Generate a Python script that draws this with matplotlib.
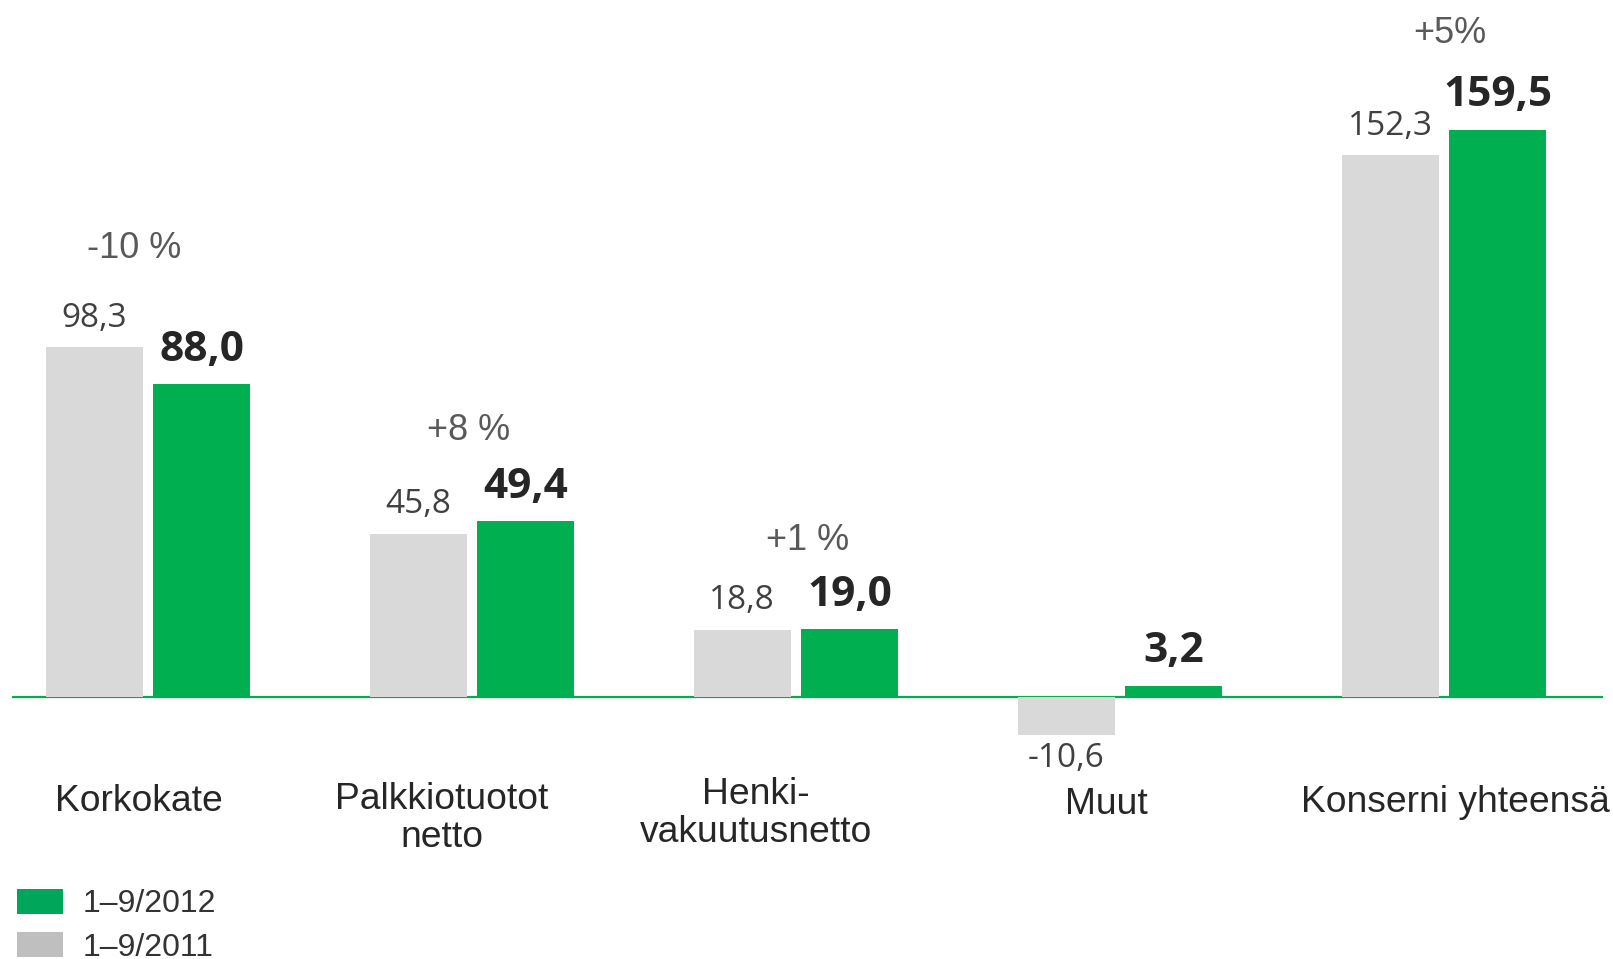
import matplotlib
matplotlib.use("Agg")
import matplotlib.pyplot as plt
from matplotlib.patches import Patch

# ---- data ----
categories = ["Korkokate", "Palkkiotuotot\nnetto", "Henki-\nvakuutusnetto", "Muut", "Konserni yhteensä"]
values_2011 = [98.3, 45.8, 18.8, -10.6, 152.3]
values_2012 = [88.0, 49.4, 19.0, 3.2, 159.5]
changes = ["-10 %", "+8 %", "+1 %", "", "+5%"]
series_names = ["1–9/2012", "1–9/2011"]

# ---- layout (not data) ----
pct_y = [126.2, 75.0, 44.1, None, 186.6]
pct_dx = [-0.043, -0.01, 0.037, 0.0, 0.019]
cat_dx = [-0.028, -0.093, -0.123, -0.043, 0.034]
cat_y = [-29.3, -34.1, -32.7, -30.2, -29.6]

GREEN = "#00B050"
GRAY = "#D9D9D9"
LEG_GREEN = "#00A65A"
LEG_GRAY = "#BFBFBF"

W, H = 1613, 959
fig = plt.figure(figsize=(W / 100, H / 100), dpi=100)
ax = fig.add_axes([12 / W, 0, 1591 / W, 1])
ax.set_xlim(-0.4198, 4.4907)
ax.set_ylim(-73.68, 196.0)
ax.axis("off")

x = list(range(len(categories)))
bw = 0.30
off = 0.166
xg = [i - off for i in x]
xn = [i + off for i in x]

ax.axhline(0, color=GREEN, lw=1.6, zorder=1)
ax.bar(xg, values_2011, width=bw, color=GRAY, zorder=2)
ax.bar(xn, values_2012, width=bw, color=GREEN, zorder=2)

def fmt(v):
    return f"{v:.1f}".replace(".", ",")

for xi, v in zip(xg, values_2011):
    dy = 21.0 if v >= 0 else -17.0
    ax.annotate(fmt(v), (xi, v), xytext=(0, dy), textcoords="offset points",
                ha="center", va="center", fontsize=24, family="Open Sans",
                color="#404040")
for xi, v in zip(xn, values_2012):
    ax.annotate(fmt(v), (xi, v), xytext=(0, 24.5), textcoords="offset points",
                ha="center", va="center", fontsize=30.5, family="Open Sans",
                fontweight="bold", color="#262626")

for i, c in enumerate(changes):
    if c:
        ax.text(i + pct_dx[i], pct_y[i], c, ha="center", va="center",
                fontsize=26, family="Liberation Sans", color="#595959")

for i, c in enumerate(categories):
    ax.text(i + cat_dx[i], cat_y[i], c, ha="center", va="center",
            fontsize=26.8, family="Liberation Sans", color="#262626",
            linespacing=1.1)

handles = [Patch(facecolor=LEG_GREEN), Patch(facecolor=LEG_GRAY)]
leg = fig.legend(handles, series_names, loc="upper left",
                 bbox_to_anchor=(17 / W, 1 - 888.5 / H), frameon=False,
                 prop={"family": "Liberation Sans", "size": 23},
                 handlelength=1.44, handleheight=0.84, handletextpad=0.62,
                 labelspacing=0.4, borderpad=0, borderaxespad=0)
for t in leg.get_texts():
    t.set_color("#333333")

fig.savefig("out.png", dpi=100)
